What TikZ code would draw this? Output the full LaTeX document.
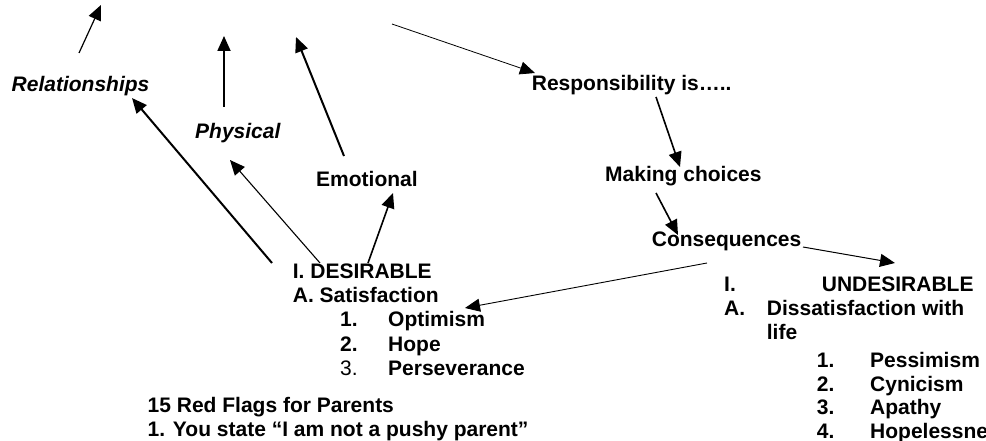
\documentclass[tikz,border=0pt]{standalone}
\usepackage{fontspec}
\setmainfont{Liberation Sans}
\usetikzlibrary{arrows.meta}
\begin{document}
\begin{tikzpicture}[x=1pt,y=-1pt,
  txt/.style={anchor=base west, inner sep=0pt, font=\bfseries\fontsize{21}{24}\selectfont},
  itxt/.style={txt, font=\bfseries\itshape\fontsize{21}{24}\selectfont},
  rtxt/.style={anchor=base west, inner sep=0pt, font=\fontsize{21}{24}\selectfont},
  arr/.style={-{Triangle[length=15pt,width=13pt]}, line width=#1},
  arr/.default=1.5pt]
\useasboundingbox (0,0) rectangle (986,441);

% text nodes
\node[itxt] (rel) at (11.5,91.7) {Relationships};
\node[itxt] (phys) at (195,138.3) {Physical};
\node[txt] (emo) at (316,186.7) {Emotional};
\node[txt] (resp) at (531.7,90.7) {Responsibility is\ldots..};
\node[txt] (mak) at (605,181.7) {Making choices};
\node[txt] (cons) at (651.7,246.7) {Consequences};

\node[txt] (des) at (292.7,278.3) {I. DESIRABLE};
\node[txt] (sat) at (292.7,302.7) {A. Satisfaction};
\node[txt] (n1) at (340,326.5) {1.};
\node[txt] (opt) at (388,326.5) {Optimism};
\node[txt] (n2) at (340,351) {2.};
\node[txt] (hope) at (388,351) {Hope};
\node[rtxt] (n3) at (340,375.5) {3.};
\node[txt] (pers) at (388,375.5) {Perseverance};

\node[txt] (flags) at (147.5,412) {15 Red Flags for Parents};
\node[txt] (flag1) at (147.5,436) {1. You state \char"201CI am not a pushy parent\char"201D};

\node[txt] (ui) at (724,291.7) {I.};
\node[txt] (und) at (821.7,291.7) {UNDESIRABLE};
\node[txt] (ua) at (724,315.5) {A.};
\node[txt] (dis) at (766.7,315.5) {Dissatisfaction with};
\node[txt] (life) at (766.7,339.5) {life};
\node[txt] (m1) at (816.7,367.5) {1.};
\node[txt] (pes) at (870,367.5) {Pessimism};
\node[txt] (m2) at (816.7,391) {2.};
\node[txt] (cyn) at (870,391) {Cynicism};
\node[txt] (m3) at (816.7,414.5) {3.};
\node[txt] (apa) at (870,414.5) {Apathy};
\node[txt] (m4) at (816.7,438) {4.};
\node[txt] (hop) at (870,438) {Hopelessne};

% connector end points
\coordinate (t1) at (101,5);
\coordinate (relTop) at (79,53);
\coordinate (t2) at (224,36);
\coordinate (physTop) at (224,107);
\coordinate (t3) at (296,37);
\coordinate (emoTop) at (344,156);
\coordinate (s4) at (392,24);
\coordinate (respIn) at (535,73);
\coordinate (respOut) at (656,97);
\coordinate (makIn) at (680,167);
\coordinate (makOut) at (656,193);
\coordinate (consIn) at (678,235);
\coordinate (consOut) at (803,247);
\coordinate (undIn) at (895,263);
\coordinate (s8) at (707,263);
\coordinate (optIn) at (465,308);
\coordinate (desA) at (272,263);
\coordinate (relIn) at (132,98);
\coordinate (desB) at (320,263);
\coordinate (physIn) at (230,160);
\coordinate (desC) at (368,263);
\coordinate (emoIn) at (393,193);

% connectors
\draw[arr=1.2pt] (relTop) -- (t1);
\draw[arr=1.8pt] (physTop) -- (t2);
\draw[arr=2pt] (emoTop) -- (t3);
\draw[arr=0.8pt] (s4) -- (respIn);
\draw[arr=1.6pt] (respOut) -- (makIn);
\draw[arr=1.6pt] (makOut) -- (consIn);
\draw[arr=1pt] (consOut) -- (undIn);
\draw[arr=0.9pt] (s8) -- (optIn);
\draw[arr=2pt] (desA) -- (relIn);
\draw[arr=1.1pt] (desB) -- (physIn);
\draw[arr=1.6pt] (desC) -- (emoIn);
\end{tikzpicture}
\end{document}
